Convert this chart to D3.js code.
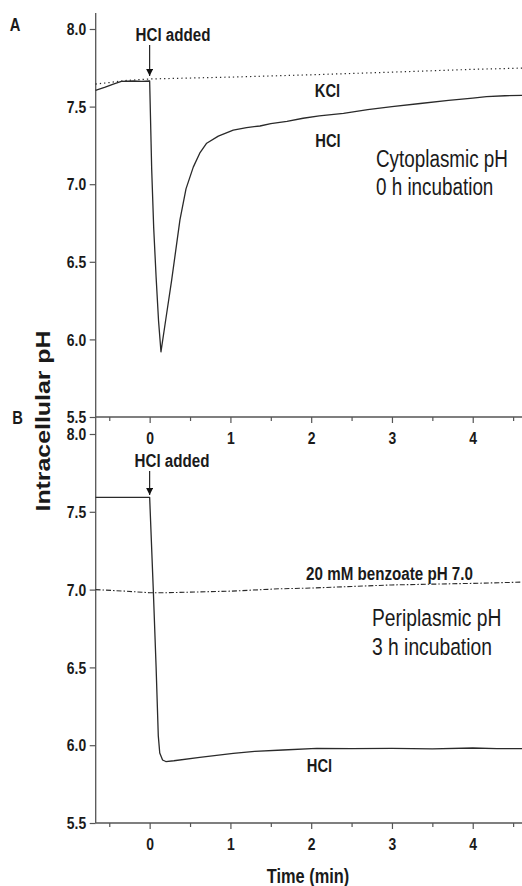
<!DOCTYPE html>
<html><head><meta charset="utf-8">
<script src="https://cdn.jsdelivr.net/npm/d3@7"></script>
<style>body{margin:0;background:#fff} svg{display:block}</style>
</head><body>
<svg id="chart" width="522" height="886"></svg>
<script>
// ---- data ----
const timeTicks = [0, 1, 2, 3, 4];
const timeMinorTicks = [-0.5, 0.5, 1.5, 2.5, 3.5, 4.5];
const pHTicks = [5.5, 6.0, 6.5, 7.0, 7.5, 8.0];

// Panel A: cytoplasmic pH, 0 h incubation  [time (min), pH]
const cytoHCl = [[-0.67,7.605],[-0.55,7.625],[-0.45,7.645],[-0.35,7.662],[-0.2,7.665],[-0.1,7.662],[0,7.665],
  [0.025,7.1],[0.05,6.72],[0.08,6.4],[0.11,6.12],[0.14,5.92],[0.2,6.13],[0.272,6.38],[0.375,6.77],[0.45,6.97],
  [0.54,7.11],[0.62,7.2],[0.706,7.264],[0.85,7.31],[1.035,7.349],[1.2,7.365],[1.366,7.375],[1.5,7.39],[1.7,7.405],
  [1.9,7.425],[2.1,7.44],[2.4,7.457],[2.7,7.48],[3.0,7.5],[3.35,7.52],[3.7,7.54],[4.0,7.555],[4.17,7.564],[4.4,7.57],[4.61,7.572]];
const cytoKCl = [[-0.67,7.645],[-0.5,7.655],[-0.3,7.668],[0,7.678],[1,7.69],[2,7.705],[3,7.722],[4,7.74],[4.61,7.748]];

// Panel B: periplasmic pH, 3 h incubation
const periHCl = [[-0.67,7.593],[0,7.593],[0.045,7.0],[0.08,6.5],[0.107,6.06],[0.125,5.95],[0.16,5.905],[0.2,5.895],[0.3,5.9],
  [0.62,5.922],[1.035,5.947],[1.3,5.96],[1.65,5.969],[2.07,5.98],[2.5,5.978],[3.0,5.98],[3.5,5.977],[4.0,5.982],[4.3,5.978],[4.61,5.978]];
const periBenzoate = [[-0.67,7.0],[-0.3,6.99],[0,6.98],[0.2,6.98],[0.6,6.985],[1,6.99],[1.6,7.005],[2,7.01],
  [2.5,7.02],[3,7.03],[3.5,7.035],[4,7.04],[4.61,7.048]];

// ---- drawing ----
const svg = d3.select("#chart");
const sans = "'Liberation Sans',Arial,sans-serif";
const SX = 0.82; // narrow look of the original lettering
const axisColor = "#555", lineColor = "#2a2a2a", textColor = "#1a1a1a";

const x = d3.scaleLinear().domain([-0.668, 4.61]).range([95.7, 522]);
const yA = d3.scaleLinear().domain([5.5, 8.0]).range([417, 29]);
const yB = d3.scaleLinear().domain([5.5, 8.0]).range([823, 434]);

function styleAxis(g) {
  g.select(".domain").remove();
  g.selectAll("line").attr("stroke", axisColor).attr("stroke-width", 1.2);
  g.selectAll("text").attr("font-family", sans).attr("font-weight", "bold")
    .attr("font-size", 17).attr("fill", textColor);
}

function panel(y, axisTop, xAxisY) {
  // y axis
  const gy = svg.append("g").attr("transform", `translate(${x.range()[0]},0)`)
    .call(d3.axisLeft(y).tickValues(pHTicks).tickFormat(d3.format(".1f")).tickSize(6).tickPadding(3));
  styleAxis(gy);
  gy.selectAll("text").attr("dy", "0.34em").attr("x", -9.5 / SX).attr("transform", `scale(${SX},1)`);
  svg.append("line").attr("x1", x.range()[0]).attr("x2", x.range()[0])
    .attr("y1", axisTop).attr("y2", xAxisY).attr("stroke", axisColor).attr("stroke-width", 1.3);
  // x axis
  const gx = svg.append("g").attr("transform", `translate(0,${xAxisY})`)
    .call(d3.axisBottom(x).tickValues(timeTicks).tickFormat(d3.format("d")).tickSize(6).tickPadding(9));
  styleAxis(gx);
  gx.selectAll("text").attr("transform", `scale(${SX},1)`);
  const gm = svg.append("g").attr("transform", `translate(0,${xAxisY})`)
    .call(d3.axisBottom(x).tickValues(timeMinorTicks).tickFormat("").tickSize(4));
  styleAxis(gm);
  svg.append("line").attr("x1", x.range()[0]).attr("x2", x.range()[1])
    .attr("y1", xAxisY).attr("y2", xAxisY).attr("stroke", axisColor).attr("stroke-width", 1.3);
}

panel(yA, 13, 417);
panel(yB, 417, 823);

function drawLine(data, y, dash, width) {
  svg.append("path").datum(data)
    .attr("d", d3.line().x(d => x(d[0])).y(d => y(d[1])))
    .attr("fill", "none").attr("stroke", lineColor).attr("stroke-width", width)
    .attr("stroke-linejoin", "round")
    .attr("stroke-dasharray", dash);
}
drawLine(cytoKCl, yA, "1.3,3", 1.2);
drawLine(cytoHCl, yA, null, 1.3);
drawLine(periBenzoate, yB, "5,2,1.5,2", 1.1);
drawLine(periHCl, yB, null, 1.3);

// arrows
svg.append("defs").append("marker").attr("id", "arr").attr("viewBox", "0 0 10 10")
  .attr("refX", 10).attr("refY", 5).attr("markerWidth", 7).attr("markerHeight", 7)
  .attr("markerUnits", "userSpaceOnUse").attr("orient", "auto")
  .append("path").attr("d", "M0,0 L10,5 L0,10 z").attr("fill", "#111");
function arrow(t, y1, y2) {
  svg.append("line").attr("x1", x(t)).attr("x2", x(t)).attr("y1", y1).attr("y2", y2)
    .attr("stroke", "#111").attr("stroke-width", 1.1).attr("marker-end", "url(#arr)");
}
arrow(0, 45, 76);
arrow(0, 471, 495);

function label(txt, px, py, opts = {}) {
  return svg.append("text").text(txt)
    .attr("transform", `translate(${px},${py}) scale(${SX},1)`)
    .attr("font-family", sans)
    .attr("font-weight", opts.weight || "bold")
    .attr("font-size", opts.size || 18)
    .attr("fill", textColor)
    .attr("text-anchor", opts.anchor || "middle");
}
label("A", 15, 31, {size: 18});
label("B", 17.5, 423.5, {size: 18});
label("HCl added", 173, 40.5, {size: 18.5});
label("HCl added", 172, 467, {size: 18.5});
label("KCl", 327.5, 97, {size: 18});
label("HCl", 328, 146.5, {size: 18});
label("Cytoplasmic pH", 376, 167, {size: 23, weight: "normal", anchor: "start"});
label("0 h incubation", 376, 195, {size: 23, weight: "normal", anchor: "start"});
label("20 mM benzoate pH 7.0", 389.5, 579.5, {size: 18.5});
label("Periplasmic pH", 372, 626, {size: 23.5, weight: "normal", anchor: "start"});
label("3 h incubation", 372, 655, {size: 23.5, weight: "normal", anchor: "start"});
label("HCl", 319.5, 771.5, {size: 18});
label("Time (min)", 308, 883, {size: 20});

svg.append("text").text("Intracellular pH")
  .attr("transform", "translate(50,421) rotate(-90)")
  .attr("text-anchor", "middle")
  .attr("font-family", sans).attr("font-weight", "bold")
  .attr("font-size", 20).attr("textLength", 181).attr("lengthAdjust", "spacingAndGlyphs")
  .attr("fill", textColor);
</script>
</body></html>
